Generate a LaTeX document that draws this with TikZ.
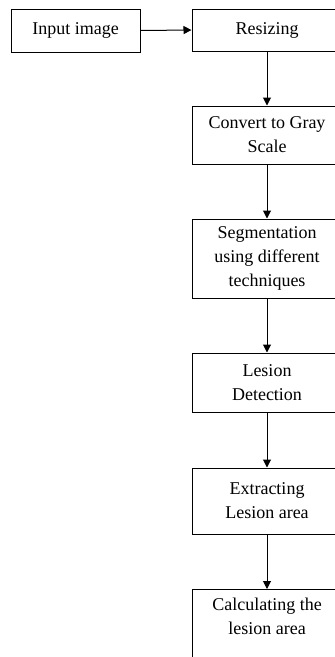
\documentclass[tikz,border=0pt]{standalone}
\usepackage{fontspec}
\setmainfont{Liberation Serif}
\usetikzlibrary{arrows.meta}
\begin{document}
\begin{tikzpicture}[x=1pt,y=-1pt,
  box/.style={draw=black,line width=1pt,rectangle,inner sep=0pt,align=center,
    font=\fontsize{18}{24}\selectfont},
  flow/.style={draw=black,line width=1pt,-{Triangle[length=8pt,width=8pt]}}]
\useasboundingbox (0,0) rectangle (335,657);
\clip (0,0) rectangle (335,657);
\fill[white] (0,0) rectangle (335,657);
\node[box,minimum width=129pt,minimum height=43pt] (input) at (75.5,30.5) {Input image};
\node[box,minimum width=150pt,minimum height=42pt] (resize) at (267,30) {Resizing};
\node[box,minimum width=150pt,minimum height=58pt] (gray) at (267,135) {Convert to Gray\\Scale};
\node[box,minimum width=150pt,minimum height=79pt] (seg) at (267,258.5) {Segmentation\\using different\\techniques};
\node[box,minimum width=150pt,minimum height=59pt] (det) at (267,382.5) {Lesion\\Detection};
\node[box,minimum width=150pt,minimum height=66pt] (ext) at (267,501) {Extracting\\Lesion area};
\node[box,minimum width=150pt,minimum height=100pt,anchor=north] (calc) at (267,589) {};
\node[box,draw=none] (calctext) at (267,616) {Calculating the\\lesion area};
\draw[flow] (input.east) -- (resize.west);
\draw[flow] (resize) -- (gray);
\draw[flow] (gray) -- (seg);
\draw[flow] (seg) -- (det);
\draw[flow] (det) -- (ext);
\draw[flow] (ext) -- (calc);
\end{tikzpicture}
\end{document}
